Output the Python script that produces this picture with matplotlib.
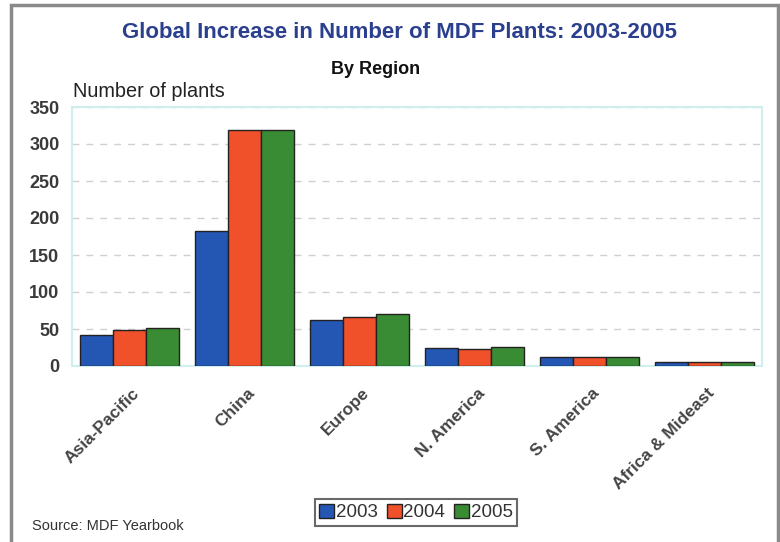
import matplotlib
matplotlib.use("Agg")
import matplotlib.pyplot as plt
import numpy as np
from matplotlib.patches import Rectangle

plt.rcParams["font.family"] = ["Liberation Sans", "DejaVu Sans"]

regions = ["Asia-Pacific", "China", "Europe", "N. America", "S. America", "Africa & Mideast"]
years = ["2003", "2004", "2005"]
v2003 = [42, 182, 62, 25, 12, 5]
v2004 = [48, 319, 66, 23, 12, 5]
v2005 = [51, 319, 70, 26, 12, 5]
yticks = [0, 50, 100, 150, 200, 250, 300, 350]

colors = ["#2456b4", "#f0502a", "#3a8c34"]
series = [v2003, v2004, v2005]

W, H = 780, 542
fig = plt.figure(figsize=(W / 100, H / 100), dpi=100)
fig.patch.set_facecolor("white")

# outer frame
fig.add_artist(Rectangle((11 / W, -0.02), (778 - 11) / W, 1 - 5 / H + 0.02,
                         transform=fig.transFigure, fill=False,
                         edgecolor="#8a8a8a", linewidth=2.5))

left, right, top, bottom = 72, 762, 107, 366
ax = fig.add_axes([left / W, 1 - bottom / H, (right - left) / W, (bottom - top) / H])

x = np.arange(len(regions))
bw = 0.285
for i, (vals, c, yr) in enumerate(zip(series, colors, years)):
    ax.bar(x + (i - 1) * bw, vals, width=bw, color=c, edgecolor="#222222",
           linewidth=1.0, label=yr, zorder=3)

ax.set_xlim(-0.5, len(regions) - 0.5)
ax.set_ylim(0, 350)
ax.set_yticks(yticks)
ax.set_yticklabels([str(t) for t in yticks], fontsize=13, fontweight="bold", color="#3a3a3a")
ax.tick_params(axis="y", length=0, pad=9)
ax.tick_params(axis="x", length=0, pad=14)
ax.set_xticks(x + 0.02)
ax.set_xticklabels(regions, rotation=45, ha="right", rotation_mode="anchor",
                   fontsize=12.5, fontweight="bold", color="#444444")
ax.yaxis.grid(True, linestyle=(0, (5, 5)), color="#d0d0d0", linewidth=1.0, zorder=0)
ax.set_axisbelow(True)
for s in ax.spines.values():
    s.set_color("#cfeeee")
    s.set_linewidth(1.5)

fig.text(400 / W, 1 - 33 / H, "Global Increase in Number of MDF Plants: 2003-2005",
         ha="center", va="center", fontsize=16, fontweight="bold", color="#2b3f8f")
fig.text(376 / W, 1 - 70 / H, "By Region", ha="center", va="center",
         fontsize=13, fontweight="bold", color="#111111")
fig.text(73 / W, 1 - 91 / H, "Number of plants", ha="left", va="center",
         fontsize=14.3, color="#222222")
fig.text(32 / W, 1 - 526 / H, "Source: MDF Yearbook", ha="left", va="center",
         fontsize=10.5, color="#333333")

leg = fig.legend(loc="center", bbox_to_anchor=(416 / W, 1 - 512.5 / H), ncol=3,
                 frameon=True, fancybox=False, handlelength=0.8, handleheight=0.8,
                 handletextpad=0.1, columnspacing=0.45, borderpad=0.25,
                 fontsize=13.5, edgecolor="#444444")
leg.get_frame().set_linewidth(1.5)
for t in leg.get_texts():
    t.set_color("#333333")

fig.savefig("out.png", dpi=100)
